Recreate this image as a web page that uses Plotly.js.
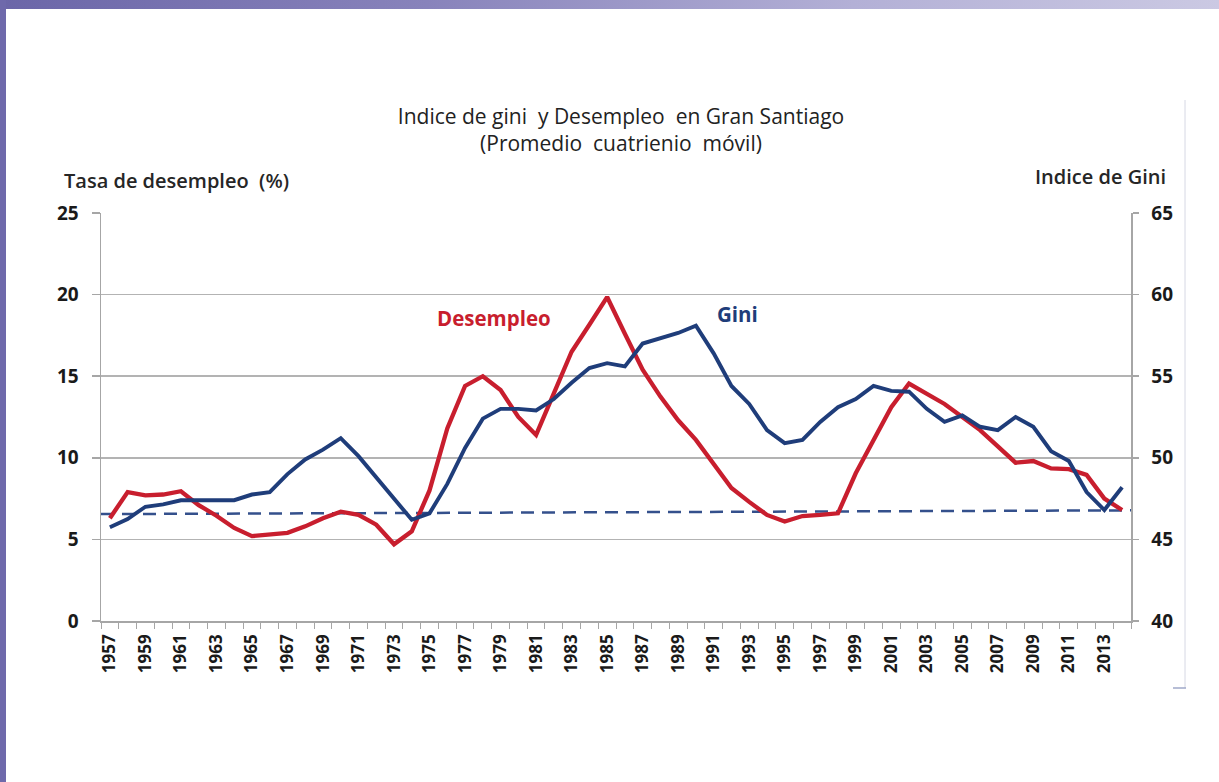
<!DOCTYPE html>
<html>
<head>
<meta charset="utf-8">
<script src="https://cdn.plot.ly/plotly-3.0.1.min.js"></script>
<style>
  html, body { margin: 0; padding: 0; background: #ffffff; }
  #wrap { position: relative; width: 1219px; height: 782px; overflow: hidden; background: #ffffff; }
  #topband { position: absolute; left: 0; top: 0; width: 1219px; height: 9px;
             background: linear-gradient(to right, #6b66a8 0%, #8883bb 35%, #b3b0d6 70%, #cbc9e3 100%); }
  #leftband { position: absolute; left: 0; top: 0; width: 6px; height: 782px; background: #6e69ab; }
  #chart { position: absolute; left: 0; top: 0; width: 1219px; height: 782px; }
</style>
</head>
<body>
<div id="wrap">
  <div id="topband"></div>
  <div id="leftband"></div>
  <div id="chart"></div>
</div>
<script>
// ---- data ----
const years = [1957,1958,1959,1960,1961,1962,1963,1964,1965,1966,1967,1968,1969,1970,
               1971,1972,1973,1974,1975,1976,1977,1978,1979,1980,1981,1982,1983,1984,
               1985,1986,1987,1988,1989,1990,1991,1992,1993,1994,1995,1996,1997,1998,
               1999,2000,2001,2002,2003,2004,2005,2006,2007,2008,2009,2010,2011,2012,
               2013,2014];

// Tasa de desempleo (%), left axis
const desempleo = [6.3,7.9,7.7,7.75,7.95,7.1,6.45,5.7,5.2,5.27,5.4,5.8,6.3,6.7,
                   6.5,5.9,4.7,5.5,8.0,11.8,14.4,15.0,14.15,12.5,11.4,13.95,16.5,18.15,
                   19.85,17.6,15.4,13.75,12.3,11.1,9.65,8.15,7.3,6.5,6.1,6.43,6.5,6.6,
                   9.05,11.1,13.1,14.55,13.95,13.3,12.5,11.7,10.7,9.7,9.8,9.35,9.3,8.95,
                   7.5,6.8];

// Indice de Gini, right axis
const gini = [45.75,46.25,47.0,47.15,47.4,47.4,47.4,47.4,47.75,47.9,49.0,49.9,50.5,51.2,
              50.1,48.8,47.5,46.2,46.6,48.4,50.6,52.4,53.0,53.0,52.9,53.6,54.6,55.5,
              55.8,55.6,57.0,57.3,57.65,58.1,56.4,54.4,53.3,51.7,50.9,51.1,52.2,53.1,
              53.6,54.4,54.1,54.05,53.0,52.2,52.6,51.9,51.7,52.5,51.9,50.4,49.8,47.9,
              46.8,48.2];

// dashed reference trend (left axis), endpoints
const trendX = [1956.5, 2014.5];
const trendY = [6.55, 6.78];

// tick labels
const xTickVals = [1957,1959,1961,1963,1965,1967,1969,1971,1973,1975,1977,1979,1981,1983,
                   1985,1987,1989,1991,1993,1995,1997,1999,2001,2003,2005,2007,2009,2011,2013];
const xTickText = xTickVals.map(String);
const leftTicks = [0,5,10,15,20,25];
const rightTicks = [40,45,50,55,60,65];

const RED = '#c81e2e';
const BLUE = '#1f3d7a';
const FONT = 'Open Sans, Noto Sans, DejaVu Sans, sans-serif';

const traces = [
  { x: trendX, y: trendY, type: 'scatter', mode: 'lines', name: 'Tendencia',
    line: { color: '#34508c', width: 2.5, dash: '13px,8px' }, yaxis: 'y', hoverinfo: 'skip' },
  { x: years, y: desempleo, type: 'scatter', mode: 'lines', name: 'Desempleo',
    line: { color: RED, width: 4.3 }, yaxis: 'y' },
  { x: years, y: gini, type: 'scatter', mode: 'lines', name: 'Gini',
    line: { color: BLUE, width: 3.9 }, yaxis: 'y2' }
];

const layout = {
  width: 1219, height: 782,
  paper_bgcolor: 'rgba(0,0,0,0)',
  plot_bgcolor: 'rgba(0,0,0,0)',
  showlegend: false,
  margin: { l: 101, r: 88, t: 213, b: 161, pad: 0 },
  font: { family: FONT, color: '#222222' },
  title: {
    text: 'Indice de gini  y Desempleo  en Gran Santiago<br>(Promedio  cuatrienio  móvil)',
    x: (621 - 101) / 1030, xref: 'paper', xanchor: 'center',
    y: 1 - 124/782, yref: 'container', yanchor: 'middle',
    font: { family: FONT, size: 21, color: '#222222' }
  },
  xaxis: {
    range: [1956.5, 2014.5],
    tickmode: 'array', tickvals: xTickVals, ticktext: xTickText,
    tickangle: -90,
    ticks: '', showgrid: false, zeroline: false,
    showline: true, linecolor: '#a6a6a6', linewidth: 1.5,
    tickfont: { family: FONT, size: 17, color: '#1a1a1a', weight: 'bold' },
    ticklabelstandoff: 5,
    minor: { tick0: 1956.5, dtick: 1, ticks: 'outside', ticklen: 6, tickwidth: 1, tickcolor: '#a6a6a6', showgrid: false }
  },
  yaxis: {
    range: [0, 25], tickmode: 'array', tickvals: leftTicks,
    showgrid: true, gridcolor: '#b3b3b3', gridwidth: 1.5,
    zeroline: false,
    showline: true, linecolor: '#a6a6a6', linewidth: 1.5,
    ticks: 'outside', ticklen: 8, tickcolor: '#a6a6a6', tickwidth: 1.5,
    tickfont: { family: FONT, size: 19, color: '#1a1a1a', weight: 'bold' },
    ticklabelstandoff: 9
  },
  yaxis2: {
    range: [40, 65], tickmode: 'array', tickvals: rightTicks,
    overlaying: 'y', side: 'right',
    showgrid: false, zeroline: false,
    showline: true, linecolor: '#a6a6a6', linewidth: 1.5,
    ticks: 'outside', ticklen: 6, tickcolor: '#a6a6a6', tickwidth: 1.5,
    tickfont: { family: FONT, size: 19, color: '#1a1a1a', weight: 'bold' },
    ticklabelstandoff: 9
  },
  annotations: [
    { text: 'Tasa de desempleo  (%)', xref: 'paper', yref: 'paper',
      x: (62 - 101) / 1030, xanchor: 'left', y: (621 - 180) / 408, yanchor: 'middle',
      showarrow: false, font: { family: FONT, size: 20, color: '#262626', weight: 600 } },
    { text: 'Indice de Gini', xref: 'paper', yref: 'paper',
      x: (1168 - 101) / 1030, xanchor: 'right', y: (621 - 176) / 408, yanchor: 'middle',
      showarrow: false, font: { family: FONT, size: 20, color: '#262626', weight: 600 } },
    { text: 'Desempleo', xref: 'paper', yref: 'paper',
      x: (494 - 101) / 1030, xanchor: 'center', y: (621 - 318) / 408, yanchor: 'middle',
      showarrow: false, font: { family: FONT, size: 20.5, color: RED, weight: 'bold' } },
    { text: 'Gini', xref: 'paper', yref: 'paper',
      x: (737 - 101) / 1030, xanchor: 'center', y: (621 - 314) / 408, yanchor: 'middle',
      showarrow: false, font: { family: FONT, size: 20.5, color: BLUE, weight: 'bold' } }
  ],
  shapes: [
    { type: 'line', xref: 'paper', yref: 'paper',
      x0: (1185 - 101) / 1030, x1: (1185 - 101) / 1030,
      y0: (621 - 100) / 408, y1: (621 - 688) / 408,
      line: { color: '#d6d8e4', width: 1 } },
    { type: 'line', xref: 'paper', yref: 'paper',
      x0: (1173 - 101) / 1030, x1: (1186 - 101) / 1030,
      y0: (621 - 688) / 408, y1: (621 - 688) / 408,
      line: { color: '#9fa8c8', width: 1.5 } }
  ]
};

Plotly.newPlot('chart', traces, layout, { staticPlot: true, displayModeBar: false });
</script>
</body>
</html>
